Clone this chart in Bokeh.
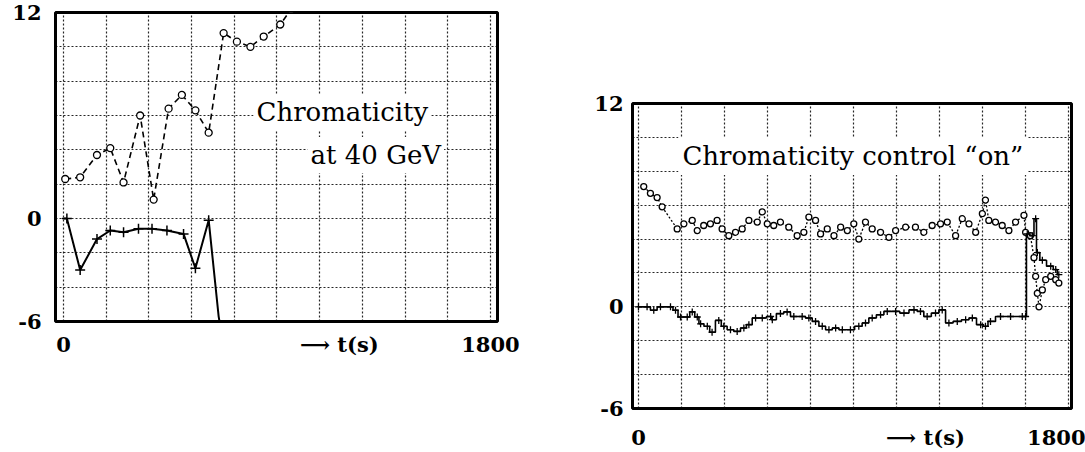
from bokeh.plotting import figure
from bokeh.layouts import row
from bokeh.models import FixedTicker, Label, Range1d
from bokeh.embed import file_html
from bokeh.resources import INLINE

# ---------------- data ----------------
# Left panel: "Chromaticity at 40 GeV"
left_upper_t = [7, 70, 141, 197, 253, 323, 380, 443, 499, 556, 612, 675, 731, 788, 844, 914, 960]
left_upper_q = [2.3, 2.4, 3.7, 4.1, 2.1, 6.0, 1.1, 6.4, 7.2, 6.3, 5.0, 10.8, 10.3, 10.0, 10.6, 11.3, 12.2]
left_lower_t = [0, 14, 70, 141, 197, 253, 316, 373, 436, 506, 556, 612, 654, 665]
left_lower_q = [0.0, 0.0, -3.0, -1.2, -0.7, -0.8, -0.6, -0.6, -0.7, -0.9, -2.9, -0.1, -5.7, -6.6]

# Right panel: "Chromaticity control on"
right_upper_t = [22, 50, 78, 99, 162, 190, 225, 246, 273, 301, 329, 350, 378, 406,
                 434, 462, 497, 518, 539, 566, 594, 629, 664, 692, 713, 741, 762, 790, 818, 846,
                 874, 901, 922, 950, 978, 1013, 1048, 1076, 1118, 1159, 1194, 1229, 1264, 1292,
                 1327, 1355, 1383, 1411, 1439, 1452, 1466, 1494, 1522, 1550, 1578, 1613,
                 1620, 1640, 1655, 1662, 1669, 1676, 1690, 1704, 1725, 1746, 1759]
right_upper_q = [7.1, 6.7, 6.45, 5.9, 4.6, 4.9, 5.1, 4.5, 4.8, 4.9, 5.1, 4.6, 4.2, 4.4,
                 4.6, 5.1, 5.0, 5.6, 4.9, 4.8, 5.0, 4.7, 4.2, 4.4, 5.3, 5.1, 4.3, 4.6, 4.2, 4.7,
                 4.5, 4.9, 4.0, 5.0, 4.6, 4.4, 4.1, 4.5, 4.7, 4.7, 4.4, 4.8, 4.9, 5.0,
                 4.2, 5.2, 4.9, 4.4, 5.5, 6.3, 5.1, 5.0, 4.8, 4.5, 5.0, 5.4,
                 4.4, 4.2, 2.9, 1.8, 0.8, 0.0, 1.0, 1.6, 1.8, 1.6, 1.4]
right_lower_t = [0, 36, 64, 92, 134, 155, 176, 204, 225, 246,
                 260, 288, 308, 336, 357, 385, 413, 441, 462, 490,
                 518, 553, 560, 594, 622, 650, 685, 713, 741, 769,
                 797, 825, 853, 887, 922, 950, 978, 1013, 1041, 1076,
                 1111, 1153, 1180, 1208, 1243, 1271, 1299, 1334, 1369, 1397,
                 1432, 1452, 1473, 1515, 1557, 1606, 1620, 1627, 1648, 1662,
                 1669, 1690, 1725, 1746, 1759]
right_lower_q = [0.0, 0.0, -0.2, 0.0, 0.0, -0.2, -0.6, -0.6, -0.3, -0.6,
                 -1.0, -1.15, -1.5, -0.8, -1.15, -1.35, -1.45, -1.25, -1.05, -0.66,
                 -0.66, -0.57, -0.76, -0.4, -0.3, -0.57, -0.57, -0.66, -0.86, -1.15,
                 -1.35, -1.25, -1.35, -1.35, -1.15, -0.95, -0.66, -0.47, -0.27, -0.27,
                 -0.37, -0.18, -0.27, -0.57, -0.37, -0.18, -0.95, -0.86, -0.76, -0.66,
                 -1.05, -1.15, -0.86, -0.57, -0.57, -0.57, -0.57, 4.3, 4.2, 5.2,
                 3.2, 2.75, 2.4, 2.2, 1.9]

# axes / ticks
y_ticks = [-6, 0, 12]
y_tick_labels = ["-6", "0", "12"]
x_tick_labels = ["0", "\u27f6 t(s)", "1800"]
grid_t = [0, 180, 360, 540, 720, 900, 1080, 1260, 1440, 1620, 1800]
grid_q = [-6, -4, -2, 0, 2, 4, 6, 8, 10, 12]

left_title = ["Chromaticity", "at 40 GeV"]
right_title = "Chromaticity control \u201con\u201d"

FONT = "DejaVu Serif"


def panel(width, height, xr, borders, x_arrow_pos, x_standoff, y_standoff):
    left, right, top, bottom = borders
    p = figure(width=width, height=height, output_backend="svg", toolbar_location=None,
               x_range=Range1d(*xr), y_range=Range1d(-6, 12),
               min_border_left=left, min_border_right=right,
               min_border_top=top, min_border_bottom=bottom)
    p.frame_align = False
    p.background_fill_color = "white"
    p.border_fill_color = "white"
    p.outline_line_color = "black"
    p.outline_line_width = 3

    p.xgrid.ticker = FixedTicker(ticks=grid_t)
    p.ygrid.ticker = FixedTicker(ticks=grid_q)
    for g in (p.xgrid, p.ygrid):
        g.grid_line_color = "black"
        g.grid_line_dash = "2 2"
        g.grid_line_width = 1.2
        g.grid_line_alpha = 0.85

    xt = [0, x_arrow_pos, 1800]
    p.xaxis.ticker = FixedTicker(ticks=xt)
    p.xaxis.major_label_overrides = {t: s for t, s in zip(xt, x_tick_labels)}
    p.yaxis.ticker = FixedTicker(ticks=y_ticks)
    p.yaxis.major_label_overrides = {t: s for t, s in zip(y_ticks, y_tick_labels)}
    for ax in (p.xaxis, p.yaxis):
        ax.axis_line_color = None
        ax.major_tick_line_color = None
        ax.minor_tick_line_color = None
        ax.major_tick_out = 0
        ax.major_tick_in = 0
        ax.minor_tick_out = 0
        ax.major_label_text_font = FONT
        ax.major_label_text_font_style = "bold"
        ax.major_label_text_font_size = "21px"
        ax.major_label_text_color = "black"
    p.xaxis.major_label_standoff = x_standoff
    p.yaxis.major_label_standoff = y_standoff
    return p


# ---------------- left panel ----------------
p1 = panel(560, 452, (-34, 1830), (55, 63, 12, 131), 1163, 10, 14)
p1.line(left_upper_t, left_upper_q, line_color="black", line_width=1.6, line_dash="6 4")
p1.scatter(left_upper_t, left_upper_q, marker="circle", size=7, fill_color="white",
           line_color="black", line_width=1.3)
p1.line(left_lower_t, left_lower_q, line_color="black", line_width=2)
p1.scatter(left_lower_t[1:-2], left_lower_q[1:-2], marker="cross", size=10,
           line_color="black", line_width=1.5)
p1.add_layout(Label(x=801, y=6.2, text=left_title[0], text_font=FONT, text_font_size="26px",
                    text_baseline="middle", text_color="black",
                    background_fill_color="white", padding=3))
p1.add_layout(Label(x=1029, y=3.7, text=left_title[1], text_font=FONT, text_font_size="26px",
                    text_baseline="middle", text_color="black",
                    background_fill_color="white", padding=3))

# ---------------- right panel ----------------
p2 = panel(525, 452, (-25, 1812), (72, 14, 103, 42), 1201, 16, 9)
p2.line(right_upper_t, right_upper_q, line_color="black", line_width=1.3, line_dash="2 2")
p2.scatter(right_upper_t, right_upper_q, marker="circle", size=6, fill_color="white",
           line_color="black", line_width=1.3)
p2.step(right_lower_t, right_lower_q, mode="center", line_color="black", line_width=1.6)
p2.scatter(right_lower_t, right_lower_q, marker="cross", size=7,
           line_color="black", line_width=1.3)
p2.add_layout(Label(x=167, y=8.9, text=right_title, text_font=FONT, text_font_size="26px",
                    text_baseline="middle", text_color="black",
                    background_fill_color="white", padding=4))

layout = row(p1, p2)
open("out.html", "w").write(file_html(layout, INLINE))
